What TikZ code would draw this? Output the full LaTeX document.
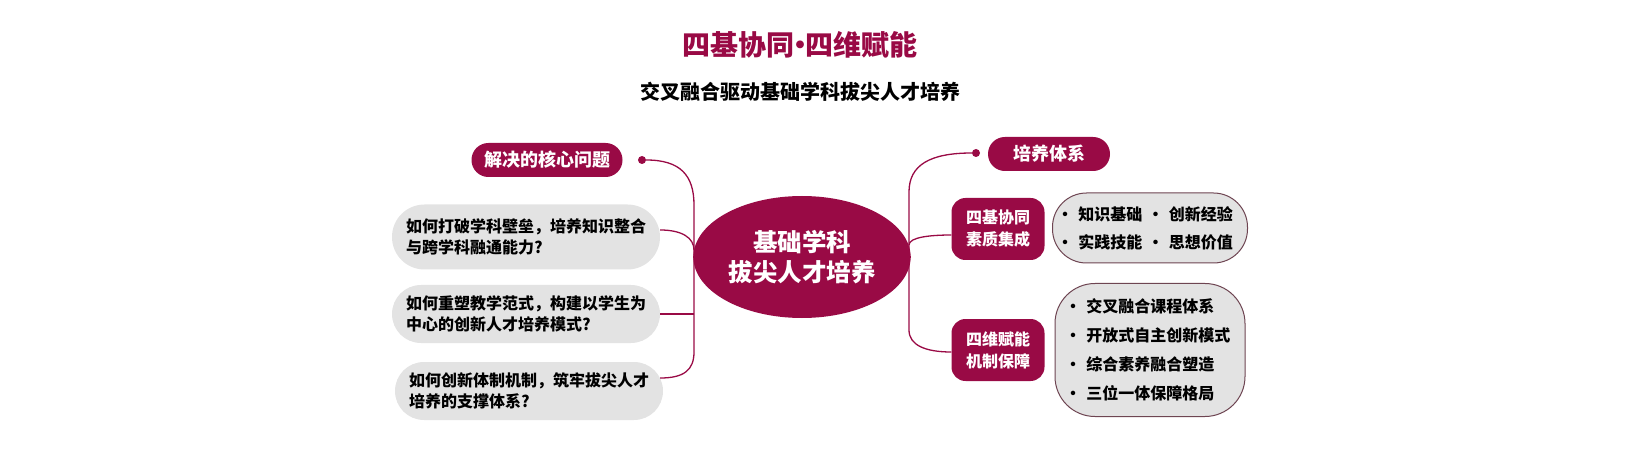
\documentclass[tikz,border=0pt]{standalone}
\usepackage{fontspec}
\setmainfont{Noto Sans CJK SC}
\usepackage{tikz}
\usetikzlibrary{shapes,positioning,calc}
\definecolor{wine}{HTML}{990A45}
\definecolor{pale}{HTML}{E3E3E3}
\definecolor{rim}{HTML}{6E4552}
\newcommand{\fs}[2]{\fontsize{#1}{#2}\selectfont}
\tikzset{
hub/.style = {fill=wine, ellipse, text=white, align=center, minimum width=164pt, minimum height=122pt, font=\bfseries\fs{24.5}{30}},
tag/.style = {fill=wine, rectangle, rounded corners=16.9pt, text=white, minimum height=34pt, font=\bfseries\fs{18}{20}},
issue/.style = {fill=pale, rectangle, rounded corners=28.9pt, align=left, minimum width=268pt, minimum height=58pt, font=\bfseries\fs{16}{21}},
pillar/.style = {fill=wine, rectangle, rounded corners=14pt, text=white, align=center, minimum width=93pt, minimum height=62pt, font=\bfseries\fs{16}{22}},
itemlist/.style = {draw=rim, line width=1pt, fill=pale, rectangle, align=left},
joint/.style = {fill=wine, circle, inner sep=0pt, minimum size=8pt},
link/.style = {draw=wine, line width=1.3pt}
}
\begin{document}
\begin{tikzpicture}[auto, x=1pt, y=-1pt]
    \useasboundingbox (0,0) rectangle (1642,465);
    \node[font=\bfseries\fs{28}{30}, text=wine] (title) at (800,45) {四基协同\kern-0.3em·\kern-0.3em四维赋能};
    \node[font=\bfseries\fs{20}{22}] (subtitle) at (800,92) {交叉融合驱动基础学科拔尖人才培养};
    \node[hub] (core) at (802,257) {基础学科\\拔尖人才培养};
    \node[tag, minimum width=151pt] (issues) at (547,160) {解决的核心问题};
    \node[joint] (dotL) at (642,160) {};
    \node[issue, minimum height=65pt, rounded corners=32.4pt] (q1) at (526,237) {如何打破学科壁垒，培养知识整合\\与跨学科融通能力?};
    \node[issue] (q2) at (526,314) {如何重塑教学范式，构建以学生为\\中心的创新人才培养模式?};
    \node[issue] (q3) at (529,391) {如何创新体制机制，筑牢拔尖人才\\培养的支撑体系?};
    \node[tag, minimum width=122pt] (system) at (1049,154) {培养体系};
    \node[joint] (dotR) at (976,153) {};
    \node[pillar] (p1) at (998,229) {四基协同\\素质集成};
    \node[pillar] (p2) at (998,350) {四维赋能\\机制保障};
    \node[itemlist, minimum width=195pt, minimum height=70pt, rounded corners=34pt, text width=186pt, font=\bfseries\fs{16}{28}] (l1) at (1150,228) {· 知识基础~· 创新经验\\· 实践技能~· 思想价值};
    \node[itemlist, minimum width=190pt, minimum height=133pt, rounded corners=40pt, text width=170pt, font=\bfseries\fs{16}{29}] (l2) at (1150,350) {· 交叉融合课程体系\\· 开放式自主创新模式\\· 综合素养融合塑造\\· 三位一体保障格局};
    \coordinate (jL) at (694,257);
    \coordinate (topL) at (694,205);
    \coordinate (botL) at (694,352);
    \coordinate (jR) at (909,257);
    \coordinate (topR) at (909,192);
    \coordinate (botR) at (909,330);
    \draw[link] (core.west) -- (jL);
    \draw[link] (dotL) .. controls (680,160) and (694,175) .. (topL) -- (botL) .. controls (694,370) and (684,378) .. ([shift={(-3pt,13pt)}]q3.east);
    \draw[link] ([yshift=7pt]q1.east) .. controls +(22,0) and +(0,-12) .. ([yshift=7pt]jL);
    \draw[link] (q2.east) -- (q2.east -| jL);
    \draw[link] (core.east) -- (jR);
    \draw[link] (dotR) .. controls (930,153) and (909,165) .. (topR) -- (botR) .. controls (909,345) and (925,352) .. ([yshift=-2pt]p2.west);
    \draw[link] ([yshift=12pt]jR) .. controls +(0,-8) and +(-20,0) .. ([yshift=-6pt]p1.west);
\end{tikzpicture}
\end{document}
